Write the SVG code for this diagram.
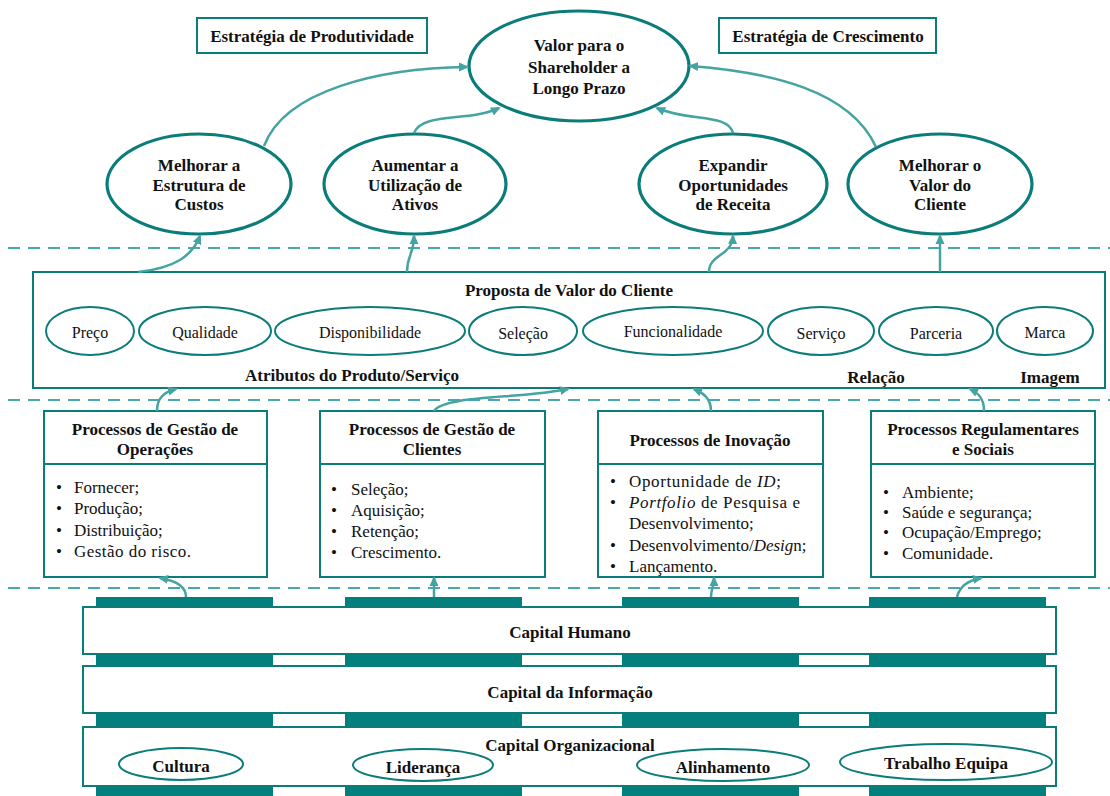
<svg xmlns="http://www.w3.org/2000/svg" width="1110" height="796" viewBox="0 0 1110 796">
<style>
.t{font-family:"Liberation Serif","Times New Roman",serif;fill:#111;}
.b{font-weight:bold;font-size:17px;}
.r{font-size:17px;}
.s{font-size:16px;}
.c{text-anchor:middle;dominant-baseline:central;}
.m{dominant-baseline:central;}
.node{fill:#fff;stroke:#0A7D7B;stroke-width:2;}
.big{fill:#fff;stroke:#0A7D7B;stroke-width:3.2;}
.bar{fill:#037F7D;}
.arr{fill:none;stroke:#45A4A1;stroke-width:2.5;marker-end:url(#ah);}
.dash{stroke:#4AA8A5;stroke-width:2;stroke-dasharray:12 8;fill:none;}
</style>
<defs>
<marker id="ah" viewBox="0 0 10 10" refX="8" refY="5" markerWidth="10" markerHeight="10" markerUnits="userSpaceOnUse" orient="auto">
<path d="M0,0.5 L10,5 L0,9.5 z" fill="#45A4A1"/>
</marker>
</defs>
<rect width="1110" height="796" fill="#fff"/>

<g id="separators">
<line class="dash" x1="8" y1="248" x2="1110" y2="248"/>
<line class="dash" x1="8" y1="400" x2="1110" y2="400"/>
<line class="dash" x1="8" y1="588" x2="1110" y2="588"/>
</g>

<g id="estrategia-produtividade">
<rect class="node" x="197" y="18" width="230" height="35"/>
<text class="t b c" x="312" y="36">Estratégia de Produtividade</text>
</g>
<g id="estrategia-crescimento">
<rect class="node" x="719" y="18" width="217" height="35"/>
<text class="t b c" x="828" y="36">Estratégia de Crescimento</text>
</g>

<g id="valor-shareholder">
<ellipse class="big" cx="579" cy="66" rx="110" ry="55"/>
<text class="t b c" x="579" y="45" font-size="18">Valor para o</text>
<text class="t b c" x="579" y="67" font-size="18">Shareholder a</text>
<text class="t b c" x="579" y="88" font-size="18">Longo Prazo</text>
</g>

<g id="estrutura-custos">
<ellipse class="big" cx="199" cy="184" rx="92" ry="50"/>
<text class="t b c" x="199" y="165">Melhorar a</text>
<text class="t b c" x="199" y="185">Estrutura de</text>
<text class="t b c" x="199" y="204">Custos</text>
</g>
<g id="utilizacao-ativos">
<ellipse class="big" cx="415" cy="184" rx="91" ry="50"/>
<text class="t b c" x="415" y="165">Aumentar a</text>
<text class="t b c" x="415" y="185">Utilização de</text>
<text class="t b c" x="415" y="204">Ativos</text>
</g>
<g id="oportunidades-receita">
<ellipse class="big" cx="733" cy="184" rx="94" ry="50"/>
<text class="t b c" x="733" y="165">Expandir</text>
<text class="t b c" x="733" y="185">Oportunidades</text>
<text class="t b c" x="733" y="204">de Receita</text>
</g>
<g id="valor-cliente">
<ellipse class="big" cx="940" cy="184" rx="92" ry="50"/>
<text class="t b c" x="940" y="165">Melhorar o</text>
<text class="t b c" x="940" y="185">Valor do</text>
<text class="t b c" x="940" y="204">Cliente</text>
</g>

<g id="proposta-valor">
<rect class="node" x="33" y="272" width="1072" height="116"/>
<text class="t b c" x="569" y="290">Proposta de Valor do Cliente</text>
<ellipse class="node" cx="90" cy="331" rx="44" ry="24"/>
<text class="t s c" x="90" y="332">Preço</text>
<ellipse class="node" cx="205" cy="331" rx="66" ry="24"/>
<text class="t s c" x="205" y="332">Qualidade</text>
<ellipse class="node" cx="370" cy="331" rx="95" ry="24"/>
<text class="t s c" x="370" y="332">Disponibilidade</text>
<ellipse class="node" cx="523" cy="331" rx="54" ry="24"/>
<text class="t s c" x="523" y="333">Seleção</text>
<ellipse class="node" cx="673" cy="331" rx="90" ry="24"/>
<text class="t s c" x="673" y="331">Funcionalidade</text>
<ellipse class="node" cx="821" cy="331" rx="53" ry="24"/>
<text class="t s c" x="821" y="333">Serviço</text>
<ellipse class="node" cx="936" cy="331" rx="57" ry="24"/>
<text class="t s c" x="936" y="333">Parceria</text>
<ellipse class="node" cx="1045" cy="331" rx="48" ry="24"/>
<text class="t s c" x="1045" y="332">Marca</text>
<text class="t b c" x="352" y="375" font-size="16">Atributos do Produto/Serviço</text>
<text class="t b c" x="876" y="377" font-size="16">Relação</text>
<text class="t b c" x="1050" y="377" font-size="16">Imagem</text>
</g>

<g id="processos-operacoes">
<rect class="node" x="44" y="411" width="223" height="166"/>
<line class="node" x1="44" y1="464" x2="267" y2="464"/>
<text class="t b c" x="155" y="429">Processos de Gestão de</text>
<text class="t b c" x="155" y="449">Operações</text>
<text class="t r m" x="56" y="487">•</text><text class="t r m" x="74" y="487">Fornecer;</text>
<text class="t r m" x="56" y="508">•</text><text class="t r m" x="74" y="508">Produção;</text>
<text class="t r m" x="56" y="530">•</text><text class="t r m" x="74" y="530">Distribuição;</text>
<text class="t r m" x="56" y="551">•</text><text class="t r m" x="74" y="551" textLength="117" lengthAdjust="spacing">Gestão do risco.</text>
</g>
<g id="processos-clientes">
<rect class="node" x="320" y="411" width="225" height="166"/>
<line class="node" x1="320" y1="464" x2="545" y2="464"/>
<text class="t b c" x="432" y="429">Processos de Gestão de</text>
<text class="t b c" x="432" y="449">Clientes</text>
<text class="t r m" x="331" y="489">•</text><text class="t r m" x="351" y="489">Seleção;</text>
<text class="t r m" x="331" y="510">•</text><text class="t r m" x="351" y="510">Aquisição;</text>
<text class="t r m" x="331" y="531">•</text><text class="t r m" x="351" y="531">Retenção;</text>
<text class="t r m" x="331" y="552">•</text><text class="t r m" x="351" y="552">Crescimento.</text>
</g>
<g id="processos-inovacao">
<rect class="node" x="598" y="411" width="225" height="166"/>
<line class="node" x1="598" y1="464" x2="823" y2="464"/>
<text class="t b c" x="710" y="440">Processos de Inovação</text>
<text class="t r m" x="610" y="481">•</text><text class="t r m" x="629" y="481" textLength="152" lengthAdjust="spacing">Oportunidade de <tspan font-style="italic">ID</tspan>;</text>
<text class="t r m" x="610" y="502">•</text><text class="t r m" x="629" y="502" textLength="171" lengthAdjust="spacing"><tspan font-style="italic">Portfolio</tspan> de Pesquisa e</text>
<text class="t r m" x="629" y="523">Desenvolvimento;</text>
<text class="t r m" x="610" y="545">•</text><text class="t r m" x="629" y="545">Desenvolvimento/<tspan font-style="italic">Desig</tspan>n;</text>
<text class="t r m" x="610" y="566">•</text><text class="t r m" x="629" y="566">Lançamento.</text>
</g>
<g id="processos-regulamentares">
<rect class="node" x="871" y="411" width="224" height="166"/>
<line class="node" x1="871" y1="464" x2="1095" y2="464"/>
<text class="t b c" x="983" y="429">Processos Regulamentares</text>
<text class="t b c" x="983" y="449">e Sociais</text>
<text class="t r m" x="883" y="492">•</text><text class="t r m" x="902" y="492">Ambiente;</text>
<text class="t r m" x="883" y="512">•</text><text class="t r m" x="902" y="512">Saúde e segurança;</text>
<text class="t r m" x="883" y="532">•</text><text class="t r m" x="902" y="532">Ocupação/Emprego;</text>
<text class="t r m" x="883" y="553">•</text><text class="t r m" x="902" y="553">Comunidade.</text>
</g>

<g id="pilares">
<rect class="bar" x="96" y="597" width="177" height="199"/>
<rect class="bar" x="345" y="597" width="177" height="199"/>
<rect class="bar" x="622" y="597" width="177" height="199"/>
<rect class="bar" x="869" y="597" width="177" height="199"/>
</g>
<g id="capital-humano">
<rect class="node" x="83" y="607" width="973" height="47"/>
<text class="t b c" x="570" y="632">Capital Humano</text>
</g>
<g id="capital-informacao">
<rect class="node" x="83" y="666" width="973" height="47"/>
<text class="t b c" x="570" y="692">Capital da Informação</text>
</g>
<g id="capital-organizacional">
<rect class="node" x="83" y="727" width="973" height="59"/>
<text class="t b c" x="570" y="745">Capital Organizacional</text>
<ellipse class="node" cx="181" cy="764" rx="62" ry="16"/>
<text class="t b c" x="181" y="766">Cultura</text>
<ellipse class="node" cx="423" cy="765" rx="70" ry="16"/>
<text class="t b c" x="423" y="767">Liderança</text>
<ellipse class="node" cx="723" cy="765" rx="86" ry="16"/>
<text class="t b c" x="723" y="767">Alinhamento</text>
<ellipse class="node" cx="946" cy="762" rx="106" ry="18"/>
<text class="t b c" x="946" y="763">Trabalho Equipa</text>
</g>

<g id="connectors">
<path class="arr" d="M264 146 C 285 90, 380 68, 467 67"/>
<path class="arr" d="M414 133 C 422 112, 470 122, 499 108"/>
<path class="arr" d="M733 133 C 728 113, 688 122, 657 108"/>
<path class="arr" d="M876 147 C 850 90, 770 72, 690 66"/>
<path class="arr" d="M138 272 C 175 268, 192 256, 200 236"/>
<path class="arr" d="M407 272 C 407 255, 414 254, 414 236"/>
<path class="arr" d="M709 272 C 709 254, 732 256, 733 236"/>
<path class="arr" d="M940 272 L 940 236"/>
<path class="arr" d="M157 411 C 157 397, 165 392, 176 389"/>
<path class="arr" d="M434 411 C 445 395, 520 399, 568 389"/>
<path class="arr" d="M711 411 C 711 398, 703 393, 694 389"/>
<path class="arr" d="M984 411 C 984 398, 978 393, 970 389"/>
<path class="arr" d="M186 597 C 186 585, 172 580, 160 578"/>
<path class="arr" d="M434 597 L 434 578"/>
<path class="arr" d="M711 597 C 711 588, 714 588, 714 578"/>
<path class="arr" d="M957 597 C 960 585, 970 580, 981 578"/>
</g>
</svg>
